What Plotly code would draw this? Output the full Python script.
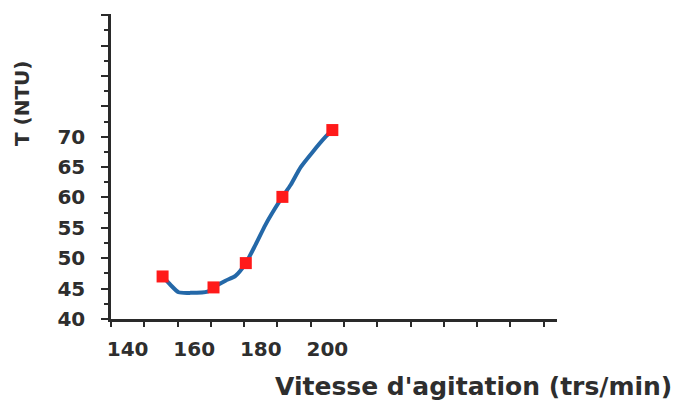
import plotly.graph_objects as go

# Measured points (red squares)
speed = [150.5, 165.8, 175.5, 186.5, 201.5]
turbidity = [47.0, 45.2, 49.2, 60.1, 71.1]

# Fitted curve (blue line)
curve_x = [150.5, 152.9, 155.3, 158.9, 164.0, 165.8, 169.4, 172.4, 175.5,
           178.4, 181.4, 184.4, 186.5, 189.0, 192.0, 195.6, 199.5, 201.5]
curve_y = [47.0, 45.6, 44.4, 44.3, 44.5, 45.2, 46.3, 47.1, 49.2,
           52.2, 55.5, 58.3, 60.1, 62.1, 65.0, 67.5, 70.0, 71.1]

x_tick_vals = [140, 160, 180, 200]
x_tick_text = ["140", "160", "180", "200"]
y_tick_vals = [40, 45, 50, 55, 60, 65, 70, 75, 80, 85, 90]
y_tick_text = ["40", "45", "50", "55", "60", "65", "70", "", "", "", ""]

x_title = "Vitesse d'agitation (trs/min)"
y_title = "T (NTU)"

FONT = "DejaVu Sans"
AX = "#2a2a2a"
TXT = "#2e2e2e"

fig = go.Figure()
fig.add_trace(go.Scatter(
    x=curve_x, y=curve_y, mode="lines",
    line=dict(color="#2468a8", width=4, shape="spline", smoothing=0.6),
    hoverinfo="skip", showlegend=False))
fig.add_trace(go.Scatter(
    x=speed, y=turbidity, mode="markers",
    marker=dict(symbol="square", size=12, color="#ff1a1a"),
    showlegend=False))

fig.update_layout(
    width=696, height=400,
    margin=dict(l=111, r=139, t=14, b=81),
    paper_bgcolor="white", plot_bgcolor="white",
    showlegend=False,
    xaxis=dict(
        range=[135, 269], showgrid=False, zeroline=False,
        showline=True, linecolor=AX, linewidth=2.5,
        tickvals=x_tick_vals, ticktext=x_tick_text, ticks="",
        ticklabelstandoff=10,
        tickfont=dict(family=FONT, size=20, color=TXT, weight="bold"),
        minor=dict(tick0=135, dtick=10, ticks="outside", ticklen=5,
                   tickwidth=2, tickcolor=AX, showgrid=False),
    ),
    yaxis=dict(
        range=[40, 90.2], showgrid=False, zeroline=False,
        showline=True, linecolor=AX, linewidth=2.5,
        tickvals=y_tick_vals, ticktext=y_tick_text,
        ticks="outside", ticklen=7, tickwidth=2, tickcolor=AX,
        ticklabelstandoff=12,
        tickfont=dict(family=FONT, size=20, color=TXT, weight="bold"),
        minor=dict(dtick=2.5, tick0=40, ticks="outside", ticklen=4,
                   tickwidth=2, tickcolor=AX, showgrid=False),
    ),
    annotations=[
        dict(text=y_title, xref="paper", yref="paper",
             x=-0.1996, y=0.708, textangle=-90, showarrow=False,
             xanchor="center", yanchor="middle",
             font=dict(family=FONT, size=20, color=TXT, weight="bold")),
        dict(text=x_title, xref="paper", yref="paper",
             x=0.812, y=-0.2197, showarrow=False,
             xanchor="center", yanchor="middle",
             font=dict(family=FONT, size=25, color=TXT, weight="bold")),
    ],
)

fig.write_html("out.html")
